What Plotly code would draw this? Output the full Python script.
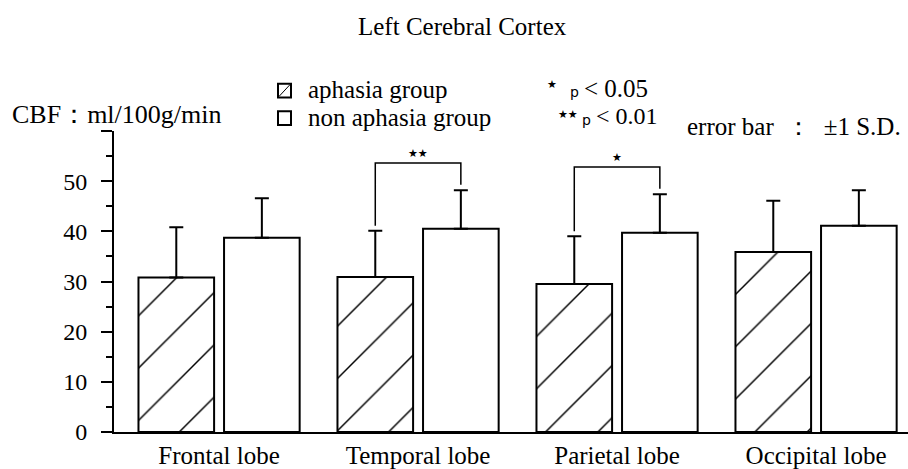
import plotly.graph_objects as go

# ---- data ----
regions = ["Frontal lobe", "Temporal lobe", "Parietal lobe", "Occipital lobe"]
aphasia_mean = [30.8, 30.9, 29.5, 35.9]
aphasia_sd = [10.0, 9.2, 9.5, 10.2]
non_aphasia_mean = [38.7, 40.5, 39.7, 41.1]
non_aphasia_sd = [7.9, 7.7, 7.7, 7.1]
series_names = ["aphasia group", "non aphasia group"]
sig_groups = [1, 2]
sig_marks = ["★★", "★"]
ytick_vals = [0, 10, 20, 30, 40, 50, 60]
ytick_text = ["0", "10", "20", "30", "40", "50", ""]

# ---- geometry / style ----
FONT = "Liberation Serif, Times New Roman, serif"
BAR_W = 0.38
HALF = 0.215
W, H = 908, 469
ML, MR, MT, MB = 114, 0, 131, 33
PW = W - ML - MR
PH = H - MT - MB


def px(x):
    return (x - ML) / PW


def py(y):
    return (H - MB - y) / PH


xpos = list(range(len(regions)))

fig = go.Figure()
fig.add_trace(go.Bar(
    x=xpos, y=aphasia_mean, name=series_names[0],
    width=BAR_W, offset=-HALF - BAR_W / 2,
    marker=dict(color="white", line=dict(color="black", width=2),
                pattern=dict(shape="/", fgcolor="black", bgcolor="white",
                             fgopacity=1, size=37, solidity=0.04)),
    error_y=dict(type="data", symmetric=False, array=aphasia_sd,
                 arrayminus=[0] * len(aphasia_sd),
                 color="black", thickness=2, width=7),
))
fig.add_trace(go.Bar(
    x=xpos, y=non_aphasia_mean, name=series_names[1],
    width=BAR_W, offset=HALF - BAR_W / 2,
    marker=dict(color="white", line=dict(color="black", width=2)),
    error_y=dict(type="data", symmetric=False, array=non_aphasia_sd,
                 arrayminus=[0] * len(non_aphasia_sd),
                 color="black", thickness=2, width=7),
))

shapes = []
annotations = []
for g, mark in zip(sig_groups, sig_marks):
    lt = aphasia_mean[g] + aphasia_sd[g]
    rt = non_aphasia_mean[g] + non_aphasia_sd[g]
    top = max(lt, rt) + 5.4
    xl, xr = g - HALF, g + HALF
    shapes.append(dict(
        type="path", xref="x", yref="y",
        path=f"M {xl},{lt + 1.0} L {xl},{top} L {xr},{top} L {xr},{rt + 1.1}",
        line=dict(color="black", width=1.5)))
    annotations.append(dict(
        x=g, y=top + 0.3, xref="x", yref="y", text=mark, showarrow=False,
        yanchor="bottom", xanchor="center",
        font=dict(family="DejaVu Sans", size=11, color="black")))


def txt(t, x, y, size=24, anchor="left", family=FONT):
    annotations.append(dict(
        x=px(x), y=py(y), xref="paper", yref="paper", text=t,
        showarrow=False, xanchor=anchor, yanchor="middle",
        font=dict(family=family, size=size, color="black")))


# hand-drawn legend (boxes + labels)
for (y0, y1), hatched in [((83, 97), True), ((111, 125), False)]:
    shapes.append(dict(type="rect", xref="paper", yref="paper",
                       x0=px(278), x1=px(291), y0=py(y1), y1=py(y0),
                       line=dict(color="black", width=2), fillcolor="white"))
    if hatched:
        shapes.append(dict(type="line", xref="paper", yref="paper",
                           x0=px(279), x1=px(290), y0=py(y1 - 1), y1=py(y0 + 1),
                           line=dict(color="black", width=1)))
txt(series_names[0], 306, 89, size=25)
txt(series_names[1], 306, 117, size=25)

txt("Left Cerebral Cortex", 462, 25, size=25, anchor="center")
txt("CBF：ml/100g/min", 10, 114, size=26)
txt("★", 552, 84, size=11, anchor="center", family="DejaVu Sans")
txt("p", 574, 91, size=14, anchor="center", family="DejaVu Sans")
txt("< 0.05", 582, 88, size=25)
txt("★★", 568, 114, size=11, anchor="center", family="DejaVu Sans")
txt("p", 586, 120, size=14, anchor="center", family="DejaVu Sans")
txt("< 0.01", 594, 116, size=24)
txt("error bar  ：  ±1 S.D.", 903, 126, size=25, anchor="right")

fig.update_layout(
    width=W, height=H,
    margin=dict(l=ML, r=MR, t=MT, b=MB),
    paper_bgcolor="white", plot_bgcolor="white",
    font=dict(family=FONT, color="black", size=24),
    showlegend=False,
    xaxis=dict(range=[-0.528, 3.462], tickvals=xpos, ticktext=regions,
               showline=True, linecolor="black", linewidth=2, ticks="",
               ticklen=0, showgrid=False, zeroline=False,
               tickfont=dict(family=FONT, size=25)),
    yaxis=dict(range=[0, 60], tickvals=ytick_vals, ticktext=ytick_text,
               showline=True, linecolor="black", linewidth=2,
               ticks="outside", ticklen=11, tickwidth=2, tickcolor="black",
               ticklabelstandoff=9,
               minor=dict(dtick=5, ticks="outside", ticklen=6, tickwidth=2,
                          tickcolor="black", showgrid=False),
               showgrid=False, zeroline=False,
               tickfont=dict(family=FONT, size=24)),
    shapes=shapes, annotations=annotations,
)

fig.write_html("out.html",
               config={"displayModeBar": False},
               post_script="document.body.style.margin='0';document.body.style.overflow='hidden';")
